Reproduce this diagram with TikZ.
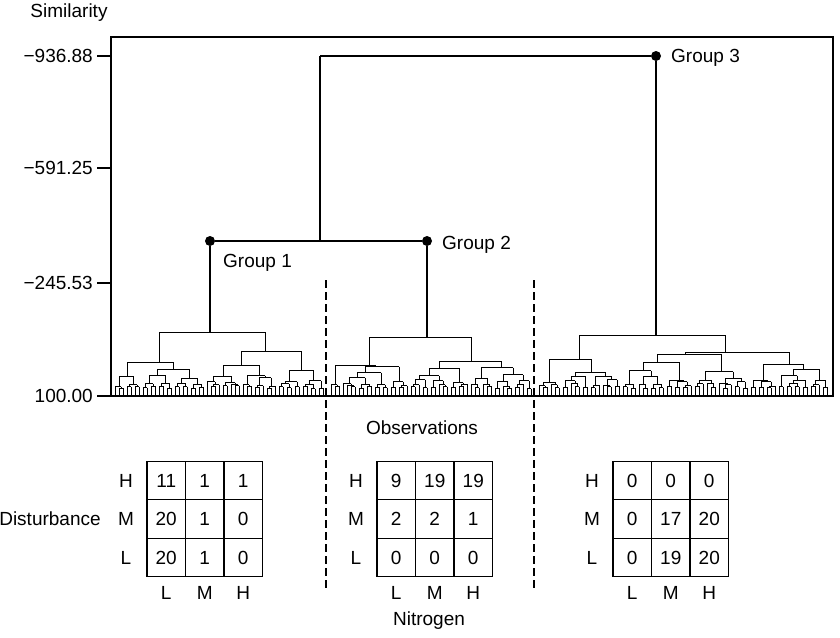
\documentclass[tikz,border=0pt]{standalone}
\usepackage{fontspec}
\setmainfont{Liberation Sans}
\usetikzlibrary{positioning}

% explicit branch: range a..m..b, parent bar at #4, own bar at #5
\newcommand\dsub[5]{%
  \pgfmathsetmacro\dx{(#1+#3)/2}%
  \draw[twig] (\dx,#4) -- (\dx,#5) ({(#1+#2)/2},#5) -- ({(#2+#3)/2},#5);}

% automatic branch: leaves every 4pt between #1 and #2, parent bar at #3
\newcommand\dauto[3]{%
  \begingroup
  \pgfmathtruncatemacro\dn{(#2-#1)/4}%
  \pgfmathsetmacro\dx{(#1+#2)/2}%
  \ifnum\dn<2
    \draw[twig] (\dx,#3) -- (\dx,396);%
    \def\dnext{}%
  \else
    \pgfmathtruncatemacro\dk{max(1,min(\dn-1,round(\dn*(0.3+0.4*rnd))))}%
    \pgfmathtruncatemacro\dm{#1+4*\dk}%
    \pgfmathsetmacro\dy{max(#3+1.5,396-6*\dn^0.55*(0.85+0.3*rnd))}%
    \draw[twig] (\dx,#3) -- (\dx,\dy) ({(#1+\dm)/2},\dy) -- ({(\dm+#2)/2},\dy);%
    \edef\dnext{\noexpand\dauto{#1}{\dm}{\dy}\noexpand\dauto{\dm}{#2}{\dy}}%
  \fi
  \expandafter\endgroup\dnext}

\tikzset{
  lab/.style={font=\fontsize{19}{22}\selectfont, inner sep=0pt},
  link/.style={line width=1.5pt},
  twig/.style={line width=1pt},
  frame/.style={line width=1.2pt},
  grp/.style={circle, fill=black, inner sep=0pt, minimum size=10pt},
  cell/.style={draw, line width=1.3pt, minimum size=38.5pt, inner sep=0pt,
               font=\fontsize{19}{22}\selectfont},
  sep/.style={line width=1.4pt, dash pattern=on 8pt off 4pt}
}

\begin{document}
\begin{tikzpicture}[x=1pt, y=-1pt]
\useasboundingbox (0,0) rectangle (840,637);
\pgfmathsetseed{5}

% axis and frame
\node[lab, anchor=base] (simil) at (69,17) {Similarity};
\draw[frame] (111,37) rectangle (833,396);
\foreach \v/\y in {−936.88/56, −591.25/168, −245.53/283, 100.00/396} {
  \draw[frame] (97,\y) -- (111,\y);
  \node[lab, anchor=east] (tk\y) at (93,\y) {\v};
}

% upper links
\node[grp] (g3) at (656,56) {};
\node[grp] (g1) at (210,241) {};
\node[grp] (g2) at (427,241) {};
\coordinate (top) at (320,56);
\coordinate (j12) at (320,241);
\coordinate (c1) at (210,332);
\coordinate (c2) at (427,337);
\coordinate (c3) at (656,335);
\draw[link] (top) -- (g3);
\draw[link] (top) -- (j12);
\draw[line width=2pt] (g1) -- (g2);
\draw[link] (g1) -- (c1);
\draw[link] (g2) -- (c2);
\draw[link] (g3) -- (c3);

\node[lab, anchor=base west] (l1) at (223,267) {Group 1};
\node[lab, anchor=base west] (l2) at (442,249) {Group 2};
\node[lab, anchor=base west] (l3) at (671,62) {Group 3};

% group 1
\dsub{113}{205}{325}{332}{332}
\dsub{113}{141}{205}{332}{362}
\dsub{205}{277}{325}{332}{351}
\dauto{113}{141}{362}\dauto{141}{205}{362}
\dauto{205}{277}{351}\dauto{277}{325}{351}
% group 2
\dsub{329}{409}{533}{337}{337}
\dsub{329}{341}{409}{337}{365}
\dsub{409}{469}{533}{337}{361}
\dauto{329}{341}{365}\dauto{341}{409}{365}
\dauto{409}{469}{361}\dauto{469}{533}{361}
% group 3
\dsub{537}{621}{829}{335}{335}
\dsub{537}{561}{621}{335}{359}
\dsub{621}{749}{829}{335}{352}
\dauto{537}{561}{359}\dauto{561}{621}{359}
\dauto{621}{749}{352}\dauto{749}{829}{352}

% separators
\coordinate (s1a) at (326,280);
\coordinate (s1b) at (326,591);
\coordinate (s2a) at (534,280);
\coordinate (s2b) at (534,591);
\draw[sep] (s1a) -- (s1b);
\draw[sep] (s2a) -- (s2b);

\node[lab] (obs) at (422,428) {Observations};
\node[lab] (dist) at (50,519) {Disturbance};
\node[lab] (nitro) at (429,621) {Nitrogen};

% tables
\foreach \t/\tx in {1/147, 2/377, 3/613} {
  \foreach \r/\rl in {0/H, 1/M, 2/L}
    \node[lab] (r\t\rl) at (\tx-21, 480.5+38.5*\r) {\rl};
  \foreach \c/\cl in {0/L, 1/M, 2/H}
    \node[lab] (c\t\cl) at (\tx+19.25+38.5*\c, 593) {\cl};
}
\foreach \t/\tx/\row/\vals in {1/147/0/{11,1,1}, 1/147/1/{20,1,0}, 1/147/2/{20,1,0},
                               2/377/0/{9,19,19}, 2/377/1/{2,2,1}, 2/377/2/{0,0,0},
                               3/613/0/{0,0,0}, 3/613/1/{0,17,20}, 3/613/2/{0,19,20}}
  \foreach \v [count=\c from 0] in \vals
    \node[cell] (t\t-\row-\c) at (\tx+19.25+38.5*\c, 480.5+38.5*\row) {\v};
\end{tikzpicture}
\end{document}
